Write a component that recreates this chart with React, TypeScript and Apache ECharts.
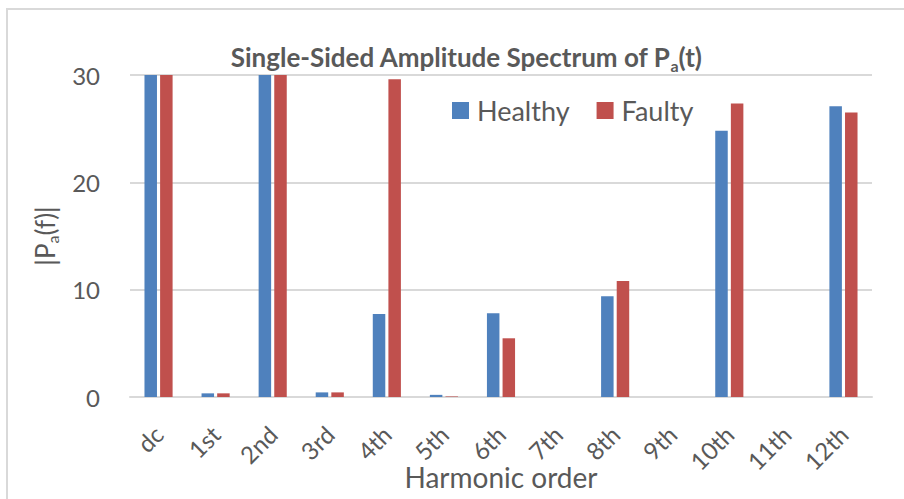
import React, { useEffect, useRef } from "react";
import * as echarts from "echarts";

const categories = ["dc", "1st", "2nd", "3rd", "4th", "5th", "6th", "7th", "8th", "9th", "10th", "11th", "12th"];
const healthy = [30, 0.34, 30, 0.43, 7.73, 0.2, 7.8, 0, 9.38, 0, 24.8, 0, 27.1];
const faulty = [30, 0.34, 30, 0.43, 29.6, 0.05, 5.47, 0, 10.8, 0, 27.35, 0, 26.5];
const yTicks = { min: 0, max: 30, interval: 10 };

const FONT = "Lato";
const TEXT = "#595959";
const GRID = "#D9D9D9";

export default function App() {
  const ref = useRef<HTMLDivElement>(null);
  useEffect(() => {
    if (!ref.current) return;
    const chart = echarts.init(ref.current, undefined, { renderer: "svg" });
    chart.setOption({
      animation: false,
      backgroundColor: "#ffffff",
      textStyle: { fontFamily: FONT, color: TEXT },
      graphic: [
        {
          type: "rect",
          shape: { x: 7, y: 9, width: 1000, height: 1000 },
          style: { fill: "none", stroke: GRID, lineWidth: 2 },
          silent: true,
        },
      ],
      title: {
        text: "{m|Single-Sided Amplitude Spectrum of P}{s|a}{m|(t)}",
        left: 461,
        textAlign: "center",
        top: 36,
        textStyle: {
          rich: {
            m: { fontFamily: FONT, fontWeight: "bold", fontSize: 26, color: TEXT, lineHeight: 32 },
            s: { fontFamily: FONT, fontWeight: "bold", fontSize: 16, color: TEXT, lineHeight: 18, verticalAlign: "bottom" },
          },
        },
      },
      legend: {
        left: 447,
        top: 92,
        itemWidth: 17,
        itemHeight: 17,
        itemGap: 27,
        icon: "rect",
        textStyle: { fontFamily: FONT, fontSize: 27, color: TEXT, padding: [0, 0, 0, 3] },
        data: ["Healthy", "Faulty"],
      },
      grid: { left: 130, right: 32, top: 75, bottom: 102, containLabel: false, outerBoundsMode: "none" },
      xAxis: {
        type: "category",
        data: categories,
        name: "Harmonic order",
        nameLocation: "middle",
        nameGap: 66,
        nameMoveOverlap: false,
        nameTextStyle: { fontFamily: FONT, fontSize: 28, color: TEXT },
        axisLine: { lineStyle: { color: GRID, width: 2 } },
        axisTick: { show: false },
        axisLabel: { rotate: 45, fontFamily: FONT, fontSize: 24, color: TEXT, margin: 33, interval: 0 },
      },
      yAxis: {
        type: "value",
        min: yTicks.min,
        max: yTicks.max,
        interval: yTicks.interval,
        name: "{m||P}{s|a}{m|(f)|}",
        nameLocation: "middle",
        nameGap: 70,
        nameMoveOverlap: false,
        nameRotate: 90,
        nameTextStyle: {
          rich: {
            m: { fontFamily: FONT, fontSize: 26, color: TEXT, lineHeight: 30 },
            s: { fontFamily: FONT, fontSize: 16, color: TEXT, lineHeight: 18, verticalAlign: "bottom" },
          },
        },
        axisLine: { show: false },
        axisTick: { show: false },
        axisLabel: { fontFamily: FONT, fontSize: 24, color: TEXT, margin: 30 },
        splitLine: { lineStyle: { color: GRID, width: 2 } },
      },
      series: [
        {
          name: "Healthy",
          type: "bar",
          data: healthy,
          barWidth: 12.5,
          barGap: "25%",
          itemStyle: { color: "#4F81BD" },
          clip: true,
        },
        {
          name: "Faulty",
          type: "bar",
          data: faulty,
          barWidth: 12.5,
          barGap: "25%",
          itemStyle: { color: "#C0504D" },
          clip: true,
        },
      ],
    });
    return () => chart.dispose();
  }, []);
  return <div ref={ref} style={{ position: "absolute", left: 0, top: 0, width: 904, height: 499 }} />;
}
